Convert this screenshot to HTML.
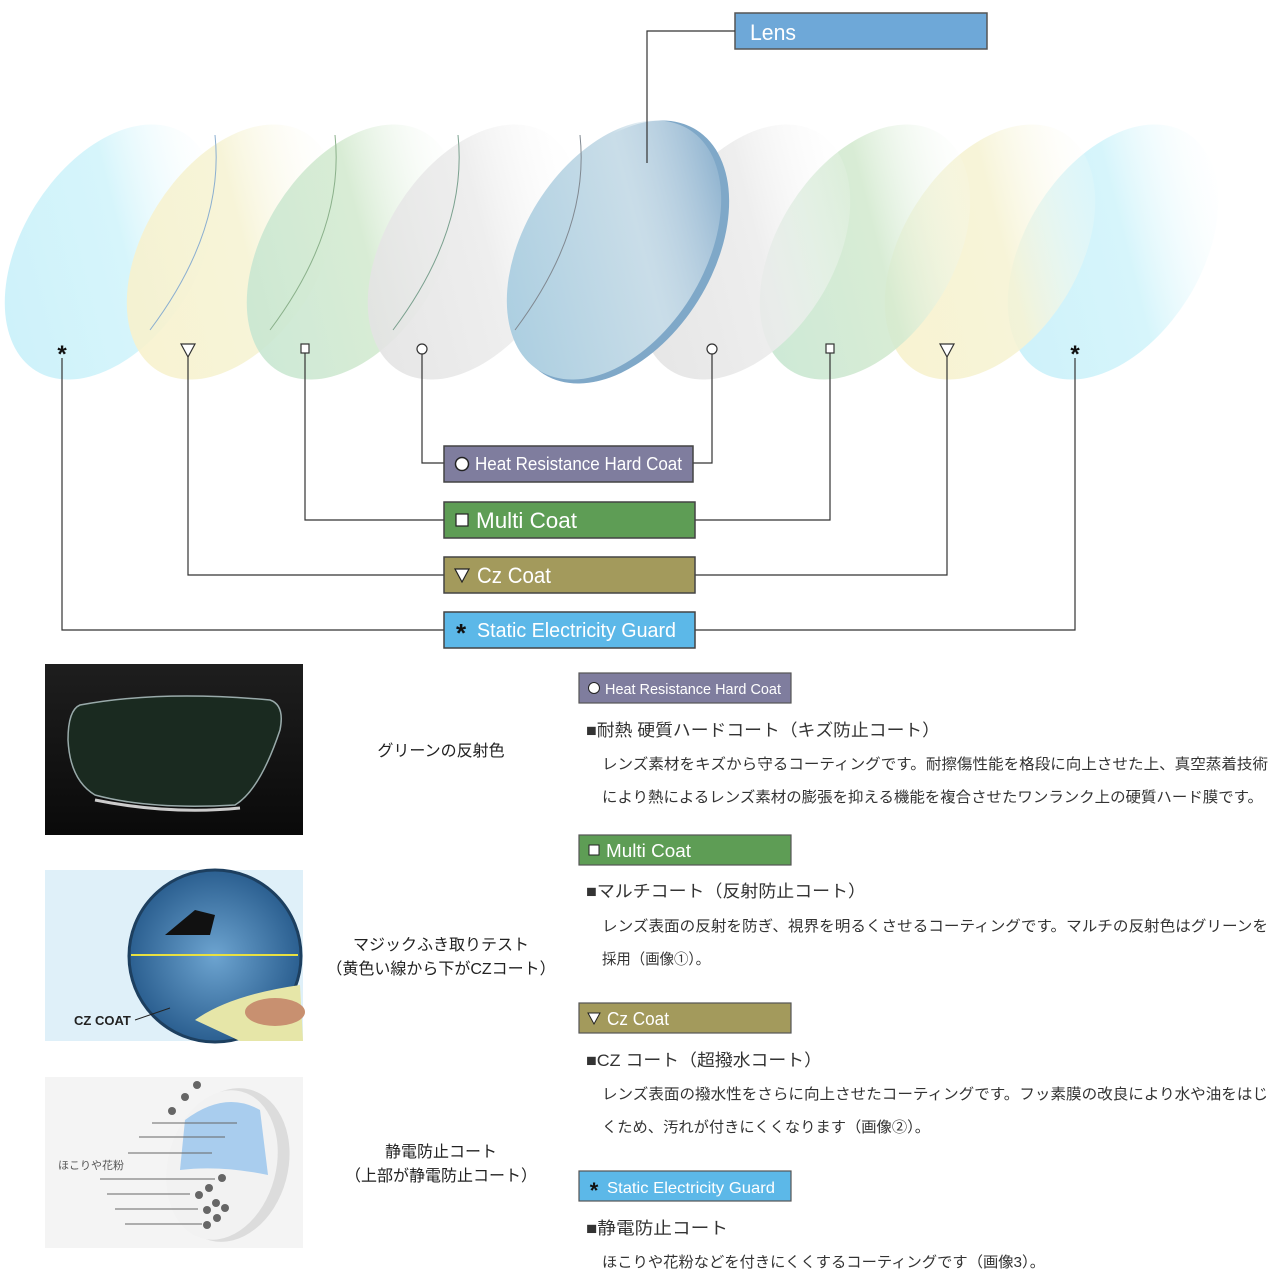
<!DOCTYPE html>
<html><head><meta charset="utf-8">
<style>
body{margin:0;background:#fff;}
svg{display:block;}
text{font-family:"Liberation Sans","Noto Sans CJK JP",sans-serif;}
.jp{font-family:"Liberation Sans","Noto Sans CJK JP",sans-serif;}
</style></head>
<body>
<svg width="1280" height="1280" viewBox="0 0 1280 1280" xmlns="http://www.w3.org/2000/svg">
<defs>
<linearGradient id="gc" x1="0.8" y1="0" x2="0.2" y2="1"><stop offset="0" stop-color="#fff" stop-opacity="0"/><stop offset="0.45" stop-color="#d6f5fb"/><stop offset="1" stop-color="#cdf1fa"/></linearGradient>
<linearGradient id="gy" x1="0.8" y1="0" x2="0.2" y2="1"><stop offset="0" stop-color="#fff" stop-opacity="0"/><stop offset="0.45" stop-color="#f6f3d4"/><stop offset="1" stop-color="#f7f1cc"/></linearGradient>
<linearGradient id="gg" x1="0.8" y1="0" x2="0.2" y2="1"><stop offset="0" stop-color="#fff" stop-opacity="0"/><stop offset="0.45" stop-color="#d4ead0"/><stop offset="1" stop-color="#c6e6d2"/></linearGradient>
<linearGradient id="gw" x1="0.8" y1="0" x2="0.2" y2="1"><stop offset="0" stop-color="#fff" stop-opacity="0"/><stop offset="0.45" stop-color="#ececec"/><stop offset="1" stop-color="#e2e2e2"/></linearGradient>
<linearGradient id="gb" x1="0.8" y1="0" x2="0.2" y2="1"><stop offset="0" stop-color="#fff" stop-opacity="0"/><stop offset="0.4" stop-color="#c9dde8"/><stop offset="1" stop-color="#a9cde0"/></linearGradient>
<linearGradient id="d1" x1="0" y1="0" x2="0" y2="1"><stop offset="0" stop-color="#1e1e1e"/><stop offset="1" stop-color="#0a0a0a"/></linearGradient>
<radialGradient id="bl" cx="0.5" cy="0.5" r="0.5"><stop offset="0" stop-color="#6da4d0"/><stop offset="1" stop-color="#2b5f90"/></radialGradient>
</defs>

<g>
<ellipse cx="110" cy="252" rx="88" ry="140" transform="rotate(32 110 252)" fill="url(#gc)"/>
<ellipse cx="232" cy="252" rx="88" ry="140" transform="rotate(32 232 252)" fill="url(#gy)" opacity="0.9"/>
<ellipse cx="352" cy="252" rx="88" ry="140" transform="rotate(32 352 252)" fill="url(#gg)" opacity="0.9"/>
<ellipse cx="473" cy="252" rx="88" ry="140" transform="rotate(32 473 252)" fill="url(#gw)" opacity="0.9"/>
<ellipse cx="1113" cy="252" rx="88" ry="140" transform="rotate(32 1113 252)" fill="url(#gc)"/>
<ellipse cx="990" cy="252" rx="88" ry="140" transform="rotate(32 990 252)" fill="url(#gy)" opacity="0.9"/>
<ellipse cx="865" cy="252" rx="88" ry="140" transform="rotate(32 865 252)" fill="url(#gg)" opacity="0.9"/>
<ellipse cx="745" cy="252" rx="88" ry="140" transform="rotate(32 745 252)" fill="url(#gw)" opacity="0.9"/>
<ellipse cx="620" cy="252" rx="92" ry="144" transform="rotate(32 620 252)" fill="#7fa8c8"/>
<ellipse cx="614" cy="250" rx="90" ry="142" transform="rotate(32 614 250)" fill="url(#gb)"/>
<path d="M215 135 Q225 230 150 330" stroke="#8aaed0" stroke-width="1" fill="none"/>
<path d="M335 135 Q345 230 270 330" stroke="#8ab08a" stroke-width="1" fill="none"/>
<path d="M458 135 Q468 230 393 330" stroke="#7aa08e" stroke-width="1" fill="none"/>
<path d="M580 135 Q590 230 515 330" stroke="#808890" stroke-width="1" fill="none"/>
</g>

<rect x="735" y="13" width="252" height="36" fill="#6ea8d8" stroke="#555" stroke-width="1.5"/>
<text x="750" y="40" font-size="22" fill="#fff" textLength="46" lengthAdjust="spacingAndGlyphs">Lens</text>
<polyline points="735,31 647,31 647,163" fill="none" stroke="#333" stroke-width="1.2"/>

<g fill="none" stroke="#333" stroke-width="1.2">
<polyline points="62,358 62,630 444,630"/>
<polyline points="1075,358 1075,630 695,630"/>
<polyline points="188,357 188,575 444,575"/>
<polyline points="947,357 947,575 695,575"/>
<polyline points="305,353 305,520 444,520"/>
<polyline points="830,353 830,520 695,520"/>
<polyline points="422,354 422,463 444,463"/>
<polyline points="712,354 712,463 693,463"/>
<rect x="301" y="344" width="8" height="9" fill="#fff"/>
<rect x="826" y="344" width="8" height="9" fill="#fff"/>
<circle cx="422" cy="349" r="5" fill="#fff"/>
<circle cx="712" cy="349" r="5" fill="#fff"/>
<polygon points="181,344 195,344 188,357" fill="#fff"/>
<polygon points="940,344 954,344 947,357" fill="#fff"/>
</g>
<text x="62" y="362" font-size="24" font-weight="bold" text-anchor="middle" fill="#111">*</text>
<text x="1075" y="362" font-size="24" font-weight="bold" text-anchor="middle" fill="#111">*</text>

<g stroke="#444" stroke-width="1.5">
<rect x="444" y="446" width="249" height="36" fill="#7f7d9e"/>
<rect x="444" y="502" width="251" height="36" fill="#5e9d55"/>
<rect x="444" y="557" width="251" height="36" fill="#a39a5c"/>
<rect x="444" y="612" width="251" height="36" fill="#5cb8e8"/>
</g>
<circle cx="462" cy="464" r="6.5" fill="#fff" stroke="#222" stroke-width="1.5"/>
<text x="475" y="470" font-size="18" fill="#fff" textLength="207" lengthAdjust="spacingAndGlyphs">Heat Resistance Hard Coat</text>
<rect x="456" y="514" width="12" height="12" fill="#fff" stroke="#222" stroke-width="1.2"/>
<text x="476" y="528" font-size="22" fill="#fff" textLength="101" lengthAdjust="spacingAndGlyphs">Multi Coat</text>
<polygon points="455,569 469,569 462,582" fill="#fff" stroke="#222" stroke-width="1.2"/>
<text x="477" y="583" font-size="22" fill="#fff" textLength="74" lengthAdjust="spacingAndGlyphs">Cz Coat</text>
<text x="461" y="642" font-size="26" font-weight="bold" text-anchor="middle" fill="#111">*</text>
<text x="477" y="637" font-size="20" fill="#fff" textLength="199" lengthAdjust="spacingAndGlyphs">Static Electricity Guard</text>

<rect x="45" y="664" width="258" height="171" fill="url(#d1)"/>
<path d="M80 705 Q160 690 270 700 Q285 705 280 730 Q260 790 235 805 Q150 810 95 795 Q70 780 68 740 Q68 710 80 705Z" fill="#1a2a20" stroke="#9aa" stroke-width="1.5"/>
<path d="M95 800 Q170 815 240 808" stroke="#ccc" stroke-width="3" fill="none"/>
<text x="441" y="756" class="jp" font-size="16" text-anchor="middle" fill="#222">グリーンの反射色</text>

<rect x="45" y="870" width="258" height="171" fill="#dff0f9"/>
<circle cx="215" cy="956" r="86" fill="url(#bl)" stroke="#1d3f5f" stroke-width="3"/>
<path d="M165 935 L195 910 L215 915 L210 935 Z" fill="#111"/>
<line x1="131" y1="955" x2="298" y2="955" stroke="#e8e040" stroke-width="2"/>
<path d="M195 1020 Q230 995 300 985 L303 1041 L240 1041 Z" fill="#e6e6a8"/>
<ellipse cx="275" cy="1012" rx="30" ry="14" fill="#c89070"/>
<text x="74" y="1025" font-size="13" font-weight="bold" fill="#222">CZ COAT</text>
<line x1="135" y1="1020" x2="170" y2="1008" stroke="#222"/>
<text x="441" y="950" class="jp" font-size="16" text-anchor="middle" fill="#222">マジックふき取りテスト</text>
<text x="441" y="974" class="jp" font-size="16" text-anchor="middle" fill="#222">（黄色い線から下がCZコート）</text>

<rect x="45" y="1077" width="258" height="171" fill="#f4f4f4"/>
<ellipse cx="230" cy="1165" rx="58" ry="78" transform="rotate(15 230 1165)" fill="#dcdcdc"/>
<ellipse cx="222" cy="1165" rx="54" ry="76" transform="rotate(15 222 1165)" fill="#f2f2f2"/>
<path d="M185 1120 Q225 1090 260 1110 L268 1175 Q220 1165 180 1170 Z" fill="#a9cdee"/>
<g fill="#666">
<circle cx="197" cy="1085" r="4"/><circle cx="185" cy="1097" r="4"/><circle cx="172" cy="1111" r="4"/>
<circle cx="222" cy="1178" r="4"/><circle cx="199" cy="1195" r="4"/><circle cx="209" cy="1188" r="4"/><circle cx="216" cy="1203" r="4"/><circle cx="225" cy="1208" r="4"/><circle cx="207" cy="1210" r="4"/><circle cx="217" cy="1218" r="4"/><circle cx="207" cy="1225" r="4"/>
</g>
<g stroke="#666" stroke-width="1">
<line x1="152" y1="1123" x2="237" y2="1123"/><line x1="139" y1="1137" x2="225" y2="1137"/><line x1="128" y1="1153" x2="212" y2="1153"/>
<line x1="100" y1="1179" x2="215" y2="1179"/><line x1="107" y1="1194" x2="190" y2="1194"/><line x1="115" y1="1209" x2="198" y2="1209"/><line x1="125" y1="1224" x2="202" y2="1224"/>
</g>
<text x="58" y="1169" class="jp" font-size="11" fill="#555">ほこりや花粉</text>
<text x="441" y="1157" class="jp" font-size="16" text-anchor="middle" fill="#222">静電防止コート</text>
<text x="441" y="1181" class="jp" font-size="16" text-anchor="middle" fill="#222">（上部が静電防止コート）</text>

<g stroke="#555" stroke-width="1.2">
<rect x="579" y="673" width="212" height="30" fill="#7f7d9e"/>
<rect x="579" y="835" width="212" height="30" fill="#5e9d55"/>
<rect x="579" y="1003" width="212" height="30" fill="#a39a5c"/>
<rect x="579" y="1171" width="212" height="30" fill="#5cb8e8"/>
</g>
<circle cx="594" cy="688" r="5.5" fill="#fff" stroke="#222"/>
<text x="605" y="694" font-size="15" fill="#fff" textLength="176" lengthAdjust="spacingAndGlyphs">Heat Resistance Hard Coat</text>
<rect x="589" y="845" width="10" height="10" fill="#fff" stroke="#222"/>
<text x="606" y="857" font-size="18" fill="#fff" textLength="85" lengthAdjust="spacingAndGlyphs">Multi Coat</text>
<polygon points="588,1013 600,1013 594,1024" fill="#fff" stroke="#222"/>
<text x="607" y="1025" font-size="18" fill="#fff" textLength="62" lengthAdjust="spacingAndGlyphs">Cz Coat</text>
<text x="594" y="1198" font-size="22" font-weight="bold" text-anchor="middle" fill="#111">*</text>
<text x="607" y="1193" font-size="16" fill="#fff" textLength="168" lengthAdjust="spacingAndGlyphs">Static Electricity Guard</text>

<g class="jp" fill="#333">
<text x="586" y="736" font-size="17" textLength="354" lengthAdjust="spacingAndGlyphs">■耐熱 硬質ハードコート（キズ防止コート）</text>
<text x="602" y="769" font-size="15" textLength="666" lengthAdjust="spacingAndGlyphs">レンズ素材をキズから守るコーティングです。耐擦傷性能を格段に向上させた上、真空蒸着技術</text>
<text x="602" y="802" font-size="15" textLength="661" lengthAdjust="spacingAndGlyphs">により熱によるレンズ素材の膨張を抑える機能を複合させたワンランク上の硬質ハード膜です。</text>
<text x="586" y="897" font-size="17" textLength="280" lengthAdjust="spacingAndGlyphs">■マルチコート（反射防止コート）</text>
<text x="602" y="931" font-size="15" textLength="666" lengthAdjust="spacingAndGlyphs">レンズ表面の反射を防ぎ、視界を明るくさせるコーティングです。マルチの反射色はグリーンを</text>
<text x="602" y="964" font-size="15" textLength="108" lengthAdjust="spacingAndGlyphs">採用（画像①）。</text>
<text x="586" y="1066" font-size="17" textLength="236" lengthAdjust="spacingAndGlyphs">■CZ コート（超撥水コート）</text>
<text x="602" y="1099" font-size="15" textLength="666" lengthAdjust="spacingAndGlyphs">レンズ表面の撥水性をさらに向上させたコーティングです。フッ素膜の改良により水や油をはじ</text>
<text x="602" y="1132" font-size="15" textLength="328" lengthAdjust="spacingAndGlyphs">くため、汚れが付きにくくなります（画像②）。</text>
<text x="586" y="1234" font-size="17" textLength="142" lengthAdjust="spacingAndGlyphs">■静電防止コート</text>
<text x="602" y="1267" font-size="15" textLength="443" lengthAdjust="spacingAndGlyphs">ほこりや花粉などを付きにくくするコーティングです（画像3）。</text>
</g>
</svg>
</body></html>
